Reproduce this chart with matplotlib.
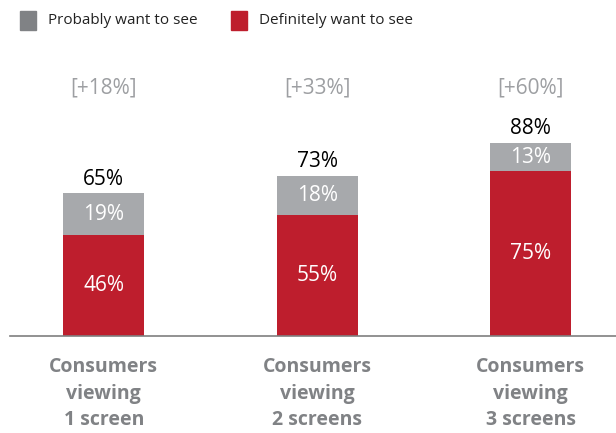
import matplotlib.pyplot as plt
import numpy as np

# data
categories = ['Consumers\nviewing\n1 screen', 'Consumers\nviewing\n2 screens', 'Consumers\nviewing\n3 screens']
definitely = [46, 55, 75]
probably = [19, 18, 13]
totals = [65, 73, 88]
uplift = ['[+18%]', '[+33%]', '[+60%]']

red = '#BE1E2D'
grey = '#A7A9AC'

plt.rcParams['font.family'] = ['Open Sans', 'DejaVu Sans']

fig = plt.figure(figsize=(6.16, 4.33), dpi=100)
ax = fig.add_axes([0.016, 0.224, 0.984, 0.776])

x = np.arange(len(categories))
w = 0.38
ax.bar(x, definitely, w, color=red)
ax.bar(x, probably, w, bottom=definitely, color=grey)

for i in range(len(x)):
    ax.text(x[i], definitely[i] / 2, f'{definitely[i]}%', ha='center', va='center',
            color='white', fontsize=15)
    ax.text(x[i], definitely[i] + probably[i] / 2, f'{probably[i]}%', ha='center',
            va='center', color='white', fontsize=15)
    ax.text(x[i], totals[i] + 1.5, f'{totals[i]}%', ha='center', va='bottom',
            color='black', fontsize=15)
    ax.text(x[i], 113, uplift[i], ha='center', va='center', color='#9D9FA2', fontsize=15)
    ax.text(x[i], -9.5, categories[i], ha='center', va='top', color='#808285',
            fontsize=14, fontweight='bold', linespacing=1.45)

ax.set_xlim(-0.44, 2.40)
ax.set_ylim(0, 153)
for s in ['top', 'right', 'left']:
    ax.spines[s].set_visible(False)
ax.spines['bottom'].set_color('#7F7F7F')
ax.spines['bottom'].set_linewidth(1.2)
ax.set_xticks([])
ax.set_yticks([])

# legend drawn as squares + text at the top
fig.patches.append(plt.Rectangle((20 / 616, 1 - 30 / 433), 16 / 616, 19 / 433,
                                 transform=fig.transFigure, color='#808285'))
fig.text(48 / 616, 1 - 21 / 433, 'Probably want to see', va='center', fontsize=11, color='#222222')
fig.patches.append(plt.Rectangle((231 / 616, 1 - 30 / 433), 16 / 616, 19 / 433,
                                 transform=fig.transFigure, color=red))
fig.text(259 / 616, 1 - 21 / 433, 'Definitely want to see', va='center', fontsize=11, color='#222222')

fig.savefig('out.png', dpi=100)
